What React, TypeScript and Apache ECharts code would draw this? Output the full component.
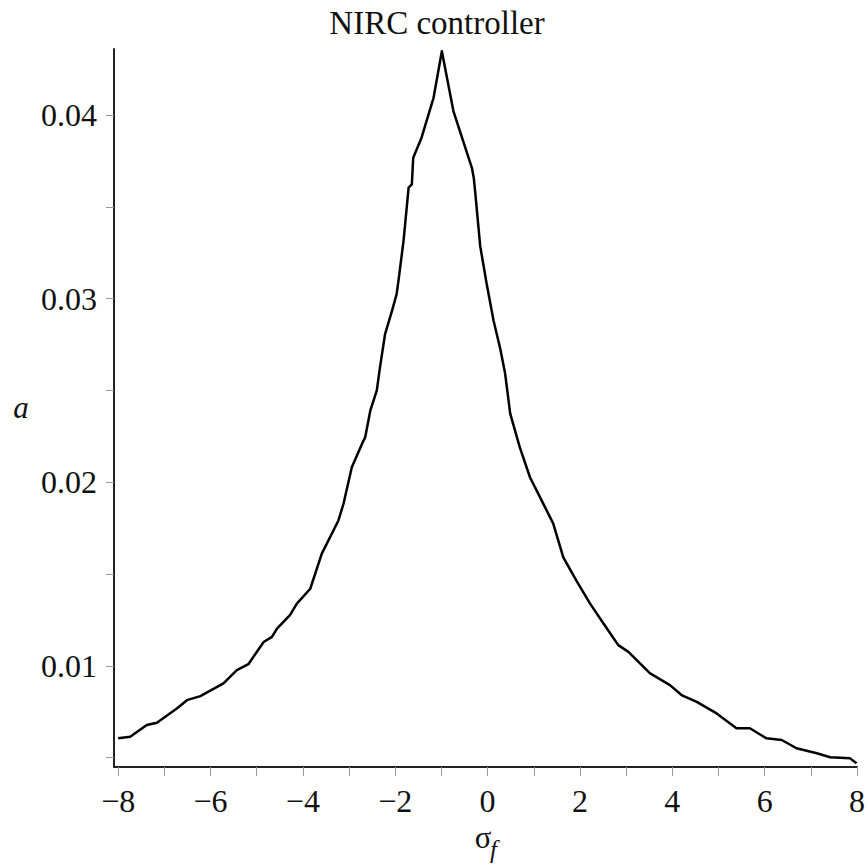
import React, { useEffect, useRef } from "react";
import * as echarts from "echarts";

const sigmaF = [
  -8.0, -7.74, -7.38, -7.16, -6.73, -6.51, -6.22, -5.72, -5.43, -5.18, -4.85, -4.67, -4.56, -4.28, -4.13,
  -3.84, -3.59, -3.23, -3.12, -2.94, -2.72, -2.65, -2.54, -2.4, -2.33, -2.22, -2.07, -1.97, -1.93, -1.82,
  -1.71, -1.64, -1.61, -1.43, -1.17, -0.99, -0.74, -0.34, -0.3, -0.27, -0.16, -0.02, 0.13, 0.27, 0.38,
  0.49, 0.7, 0.92, 1.17, 1.42, 1.64, 1.92, 2.22, 2.51, 2.83, 3.05, 3.52, 3.95, 4.2, 4.53, 4.96, 5.39,
  5.68, 6.04, 6.37, 6.69, 7.13, 7.42, 7.85, 7.99,
];
const aValues = [
  0.00605, 0.00614, 0.00678, 0.0069, 0.00768, 0.00813, 0.00835, 0.00904, 0.00977, 0.01009, 0.0113, 0.01158,
  0.01203, 0.01276, 0.01339, 0.0142, 0.01611, 0.01792, 0.01883, 0.02082, 0.02209, 0.02245, 0.0239, 0.02499,
  0.02626, 0.02807, 0.02934, 0.03025, 0.03097, 0.03315, 0.03605, 0.03623, 0.03768, 0.03877, 0.04094,
  0.04348, 0.04022, 0.03713, 0.03659, 0.03586, 0.03287, 0.03081, 0.0288, 0.02733, 0.02592, 0.02374,
  0.02189, 0.02026, 0.01901, 0.01776, 0.01591, 0.01466, 0.01339, 0.01231, 0.01113, 0.01076, 0.00959,
  0.00895, 0.00841, 0.00804, 0.00741, 0.0066, 0.0066, 0.00605, 0.00596, 0.00551, 0.00524, 0.00502,
  0.00496, 0.00469,
];
const xTickValues = [-8, -7, -6, -5, -4, -3, -2, -1, 0, 1, 2, 3, 4, 5, 6, 7, 8];
const xLabelValues = [-8, -6, -4, -2, 0, 2, 4, 6, 8];
const yTickValues = [0.005, 0.01, 0.015, 0.02, 0.025, 0.03, 0.035, 0.04];
const yLabelValues = [0.01, 0.02, 0.03, 0.04];

const FONT = '"Liberation Serif", "Times New Roman", serif';

export default function App() {
  const ref = useRef<HTMLDivElement>(null);
  useEffect(() => {
    if (!ref.current) return;
    const chart = echarts.init(ref.current, null, { renderer: "svg" });
    const data = sigmaF.map((x, i) => [x, aValues[i]]);
    chart.setOption({
      animation: false,
      backgroundColor: "#ffffff",
      grid: { left: 114, right: 11, top: 49, bottom: 101, containLabel: false },
      graphic: [
        {
          type: "text",
          x: 437,
          y: 23,
          style: {
            text: "NIRC controller",
            font: `33px ${FONT}`,
            fill: "#111",
            align: "center",
            verticalAlign: "middle",
          },
        },
        {
          type: "text",
          x: 21,
          y: 407,
          style: {
            text: "a",
            font: `italic 31px ${FONT}`,
            fill: "#111",
            align: "center",
            verticalAlign: "middle",
          },
        },
        {
          type: "text",
          x: 483,
          y: 837,
          style: {
            text: "σ",
            font: `31px ${FONT}`,
            fill: "#111",
            align: "center",
            verticalAlign: "middle",
          },
        },
        {
          type: "text",
          x: 490,
          y: 849,
          style: {
            text: "f",
            font: `italic 25px ${FONT}`,
            fill: "#111",
            align: "left",
            verticalAlign: "middle",
          },
        },
      ],
      xAxis: {
        type: "value",
        min: -8.09,
        max: 8,
        splitLine: { show: false },
        axisLine: { show: true, onZero: false, lineStyle: { color: "#222", width: 2 } },
        axisTick: {
          show: true,
          length: 9,
          customValues: xTickValues,
          lineStyle: { color: "#999", width: 1 },
        },
        axisLabel: {
          customValues: xLabelValues,
          margin: 18,
          fontFamily: FONT,
          fontSize: 32,
          color: "#111",
          formatter: (v: number) => (v < 0 ? "\u2212" + Math.abs(v) : String(v)),
        },
      },
      yAxis: {
        type: "value",
        min: 0.00449,
        max: 0.0436,
        splitLine: { show: false },
        axisLine: { show: true, onZero: false, lineStyle: { color: "#222", width: 2 } },
        axisTick: {
          show: true,
          length: 8,
          customValues: yTickValues,
          lineStyle: { color: "#999", width: 1 },
        },
        axisLabel: {
          customValues: yLabelValues,
          margin: 17,
          fontFamily: FONT,
          fontSize: 32,
          color: "#111",
          formatter: (v: number) => v.toFixed(2),
        },
      },
      series: [
        {
          type: "line",
          data,
          showSymbol: false,
          symbol: "none",
          lineStyle: { color: "#000", width: 2.5, join: "round" },
          clip: false,
        },
      ],
    });
    return () => chart.dispose();
  }, []);
  return <div ref={ref} style={{ width: 868, height: 868, position: "absolute", left: 0, top: 0 }} />;
}
